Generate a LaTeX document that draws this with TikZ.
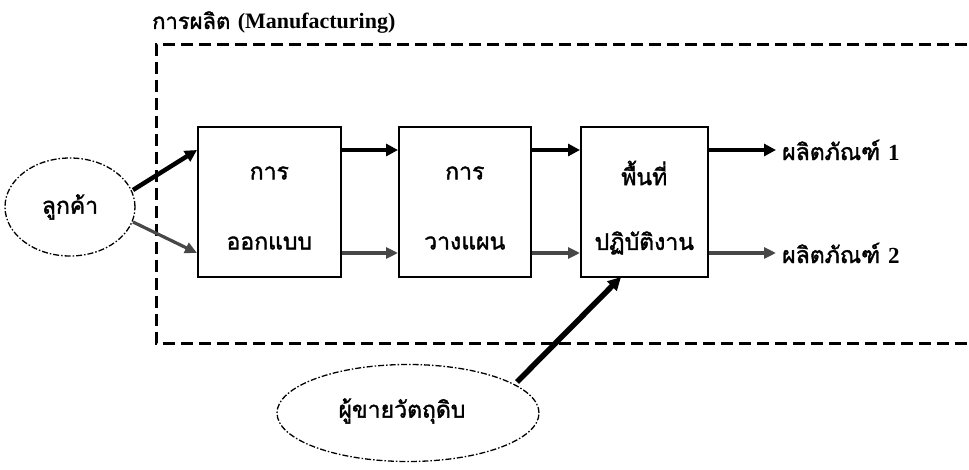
\documentclass[tikz,border=0pt]{standalone}
\usepackage{fontspec}
\newfontfamily\thaifont[Script=Thai,FakeBold=1.6]{Loma}
\newfontfamily\latfont{Liberation Serif}
\usetikzlibrary{arrows.meta,shapes.geometric,calc}
\begin{document}
\begin{tikzpicture}[x=1pt,y=-1pt,
  every node/.style={font=\thaifont},
  procbox/.style={draw=black,line width=1.6pt,minimum height=150pt,anchor=north west,inner sep=0pt},
  cloud/.style={draw=black,ellipse,line width=1.3pt,dash pattern=on 6pt off 2pt on 1.5pt off 2pt},
  mainflow/.style={line width=4.5pt,-{Triangle[length=12pt,width=12pt]}},
  subflow/.style={line width=3.2pt,draw=black!72,-{Triangle[length=12pt,width=11pt]}},
  btext/.style={font=\thaifont\fontsize{23}{25}\selectfont,inner sep=0pt},
  ]
\clip (0,0) rectangle (969,470);
\fill[white] (0,0) rectangle (969,470);
% frame
\node[anchor=south west,font=\thaifont\fontsize{22}{24}\selectfont,inner sep=0pt] (title) at (152,34) {การผลิต {\latfont\bfseries\fontsize{22}{24}\selectfont(Manufacturing)}};
\draw[line width=3pt,dash pattern=on 12pt off 6pt] (985,45) -- (156,45) -- (156,343) -- (985,343);
% customer
\node[cloud,minimum width=130pt,minimum height=98pt] (cust) at (70,207) {};
\node[btext] (custt) at (cust.center) {ลูกค้า};
% boxes
\node[procbox,minimum width=143pt] (b1) at (197,126) {};
\node[procbox,minimum width=132pt] (b2) at (398,126) {};
\node[procbox,minimum width=127pt] (b3) at (580,126) {};
\node[btext] (b1a) at ($(b1.north)+(0,47)$) {การ};
\node[btext] (b1b) at ($(b1.north)+(0,117)$) {ออกแบบ};
\node[btext] (b2a) at ($(b2.north)+(0,47)$) {การ};
\node[btext] (b2b) at ($(b2.north)+(0,117)$) {วางแผน};
\node[btext] (b3a) at ($(b3.north)+(0,47)$) {พื้นที่};
\node[btext] (b3b) at ($(b3.north)+(0,117)$) {ปฏิบัติงาน};
% outputs
\node[btext,anchor=west,inner xsep=6pt] (p1) at (776,150) {ผลิตภัณฑ์ {\latfont\bfseries 1}};
\node[btext,anchor=west,inner xsep=6pt] (p2) at (776,253) {ผลิตภัณฑ์ {\latfont\bfseries 2}};
% supplier
\node[cloud,minimum width=262pt,minimum height=97pt] (sup) at (408,413) {};
\node[btext] (supt) at (402,411) {ผู้ขายวัตถุดิบ};
% flows
\coordinate (c1) at (133,190);
\coordinate (c2) at (133,222);
\draw[mainflow] (c1) -- (b1.west |- 0,150);
\draw[subflow] (c2) -- (b1.west |- 0,253);
\draw[mainflow] (b1.east |- 0,150) -- (b2.west |- 0,150);
\draw[subflow] (b1.east |- 0,253) -- (b2.west |- 0,253);
\draw[mainflow] (b2.east |- 0,150) -- (b3.west |- 0,150);
\draw[subflow] (b2.east |- 0,253) -- (b3.west |- 0,253);
\draw[mainflow] (b3.east |- 0,150) -- (p1.west);
\draw[subflow] (b3.east |- 0,253) -- (p2.west);
\draw[line width=5.5pt,-{Triangle[length=13pt,width=13pt]}] (517,382) -- (621,277);
\end{tikzpicture}
\end{document}
